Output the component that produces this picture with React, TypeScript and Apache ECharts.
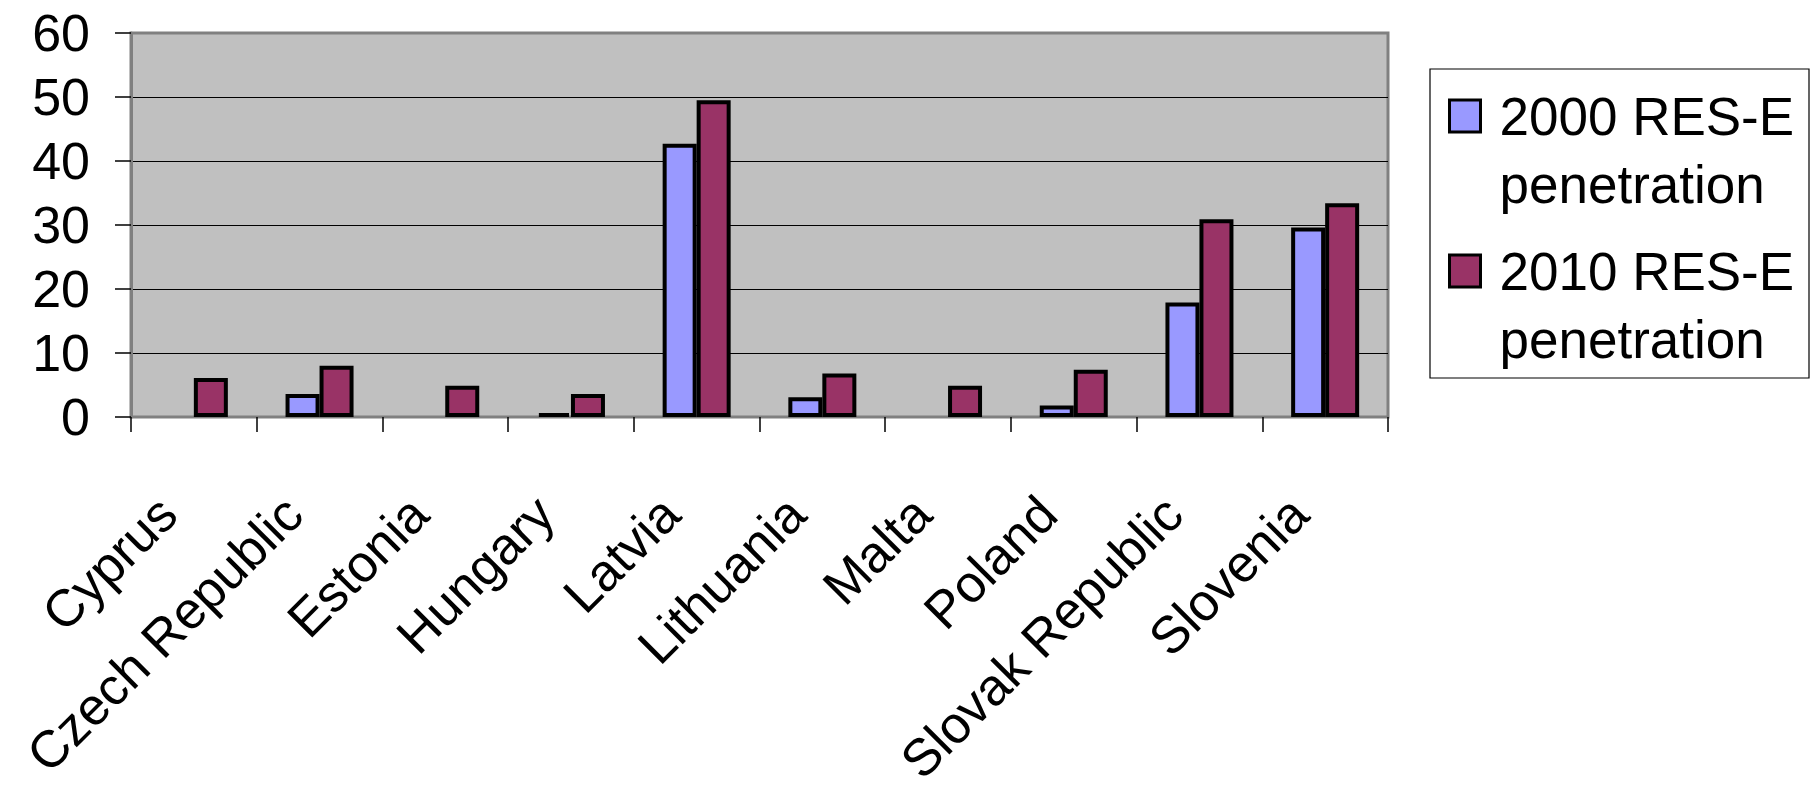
import React, { useEffect, useRef } from "react";
import * as echarts from "echarts";

const categories = [
  "Cyprus",
  "Czech Republic",
  "Estonia",
  "Hungary",
  "Latvia",
  "Lithuania",
  "Malta",
  "Poland",
  "Slovak Republic",
  "Slovenia",
];
const res2000 = [null, 3.6, null, 0.6, 42.7, 3.1, null, 1.8, 17.9, 29.6];
const res2010 = [6.1, 8.0, 4.9, 3.6, 49.5, 6.8, 4.9, 7.4, 30.9, 33.4];
const seriesNames = ["2000 RES-E\npenetration", "2010 RES-E\npenetration"];
const yTicks = { min: 0, max: 60, interval: 10 };

const FONT = "'Liberation Sans', Arial, Helvetica, sans-serif";

export default function App() {
  const ref = useRef<HTMLDivElement>(null);
  useEffect(() => {
    if (!ref.current) return;
    const chart = echarts.init(ref.current, null, { renderer: "svg" });
    chart.setOption({
      animation: false,
      textStyle: { fontFamily: FONT },
      grid: {
        left: 131,
        top: 33,
        right: 427,
        bottom: 374,
        show: true,
        backgroundColor: "#C0C0C0",
        borderColor: "#808080",
        borderWidth: 3,
        containLabel: false,
        outerBoundsMode: "none",
      },
      graphic: [
        {
          type: "rect",
          z: 0,
          shape: { x: 1430, y: 69, width: 379, height: 309 },
          style: { fill: "#ffffff", stroke: "#000000", lineWidth: 1.2 },
        },
      ],
      legend: {
        orient: "vertical",
        left: 1448,
        top: 14,
        padding: 0,
        itemGap: -49,
        itemWidth: 31,
        itemHeight: 32,
        z: 10,
        icon: "rect",
        selectedMode: false,
        itemStyle: { borderColor: "#000", borderWidth: 3 },
        formatter: (name: string) => "\n" + name,
        textStyle: {
          fontFamily: FONT,
          fontSize: 53,
          lineHeight: 68,
          color: "#000",
          padding: [0, 0, 0, 14],
        },
        data: seriesNames,
      },
      xAxis: {
        type: "category",
        data: categories,
        axisLine: { show: true, lineStyle: { color: "#808080", width: 2 } },
        axisTick: { show: true, length: 15, lineStyle: { color: "#000", width: 1.5 } },
        axisLabel: {
          interval: 0,
          rotate: 45,
          margin: 62,
          padding: [0, 37, 0, 0],
          fontSize: 52,
          color: "#000",
          fontFamily: FONT,
        },
        splitLine: { show: false },
      },
      yAxis: {
        type: "value",
        min: yTicks.min,
        max: yTicks.max,
        interval: yTicks.interval,
        axisLine: { show: true, lineStyle: { color: "#808080", width: 3 } },
        axisTick: { show: true, inside: false, length: 16, lineStyle: { color: "#000", width: 1.5 } },
        axisLabel: { fontSize: 52, color: "#000", margin: 41, fontFamily: FONT },
        splitLine: {
          show: true,
          showMinLine: false,
          showMaxLine: false,
          lineStyle: { color: "#000", width: 1.2 },
        },
      },
      series: [
        {
          name: seriesNames[0],
          type: "bar",
          data: res2000,
          barWidth: 34,
          barGap: "0%",
          itemStyle: { color: "#9999FF", borderColor: "#000", borderWidth: 4 },
        },
        {
          name: seriesNames[1],
          type: "bar",
          data: res2010,
          barWidth: 34,
          barGap: "0%",
          itemStyle: { color: "#993366", borderColor: "#000", borderWidth: 4 },
        },
      ],
    });
    return () => chart.dispose();
  }, []);
  return (
    <div
      ref={ref}
      style={{ position: "fixed", left: 0, top: 0, width: 1815, height: 791, background: "#fff" }}
    />
  );
}
